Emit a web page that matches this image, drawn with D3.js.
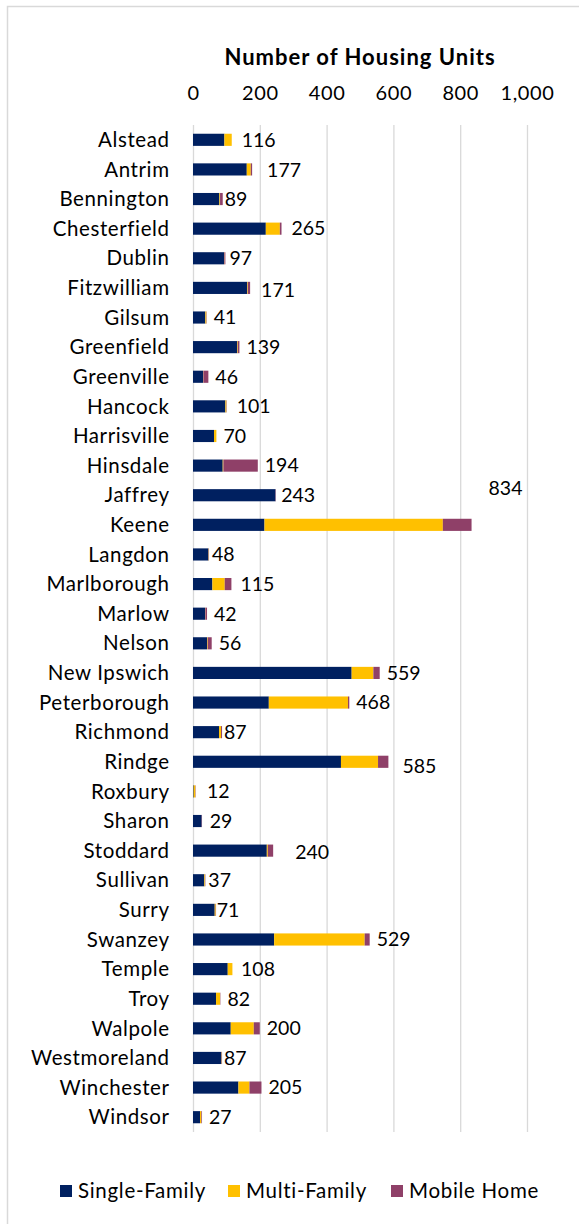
<!DOCTYPE html>
<html>
<head>
<meta charset="utf-8">
<script src="https://cdn.jsdelivr.net/npm/d3@7/dist/d3.min.js"></script>
<style>
  html, body { margin: 0; padding: 0; background: #fff; }
  svg { display: block; }
  text { font-family: Lato, "Open Sans", sans-serif; fill: #000; }
</style>
</head>
<body>
<svg id="chart" width="579" height="1224"></svg>
<script>
// ---------- data ----------
const towns = ["Alstead","Antrim","Bennington","Chesterfield","Dublin","Fitzwilliam","Gilsum",
  "Greenfield","Greenville","Hancock","Harrisville","Hinsdale","Jaffrey","Keene","Langdon",
  "Marlborough","Marlow","Nelson","New Ipswich","Peterborough","Richmond","Rindge","Roxbury",
  "Sharon","Stoddard","Sullivan","Surry","Swanzey","Temple","Troy","Walpole","Westmoreland",
  "Winchester","Windsor"];
const singleFamily = [94,161,79,218,93,162,37,132,30,97,63,89,247,214,46,58,36,42,475,227,78,443,2,26,221,34,65,243,104,69,113,85,136,21];
const multiFamily  = [22,12,2,42,1,2,3,2,1,3,7,2,0,534,1,37,1,2,65,237,6,111,5,0,3,2,3,271,14,12,69,1,33,4];
const mobileHome   = [0,4,8,5,3,7,1,5,15,1,0,103,1,86,1,20,5,12,19,4,3,31,1,1,16,1,1,15,0,1,18,1,36,2];
const totalLabels  = [116,177,89,265,97,171,41,139,46,101,70,194,243,834,48,115,42,56,559,468,87,585,12,29,240,37,71,529,108,82,200,87,205,27];
const seriesNames  = ["Single-Family","Multi-Family","Mobile Home"];
const xTicks       = [0,200,400,600,800,1000];
const titleText    = "Number of Housing Units";

// ---------- layout / style ----------
const colors = ["#002060","#FFC000","#8F4068"];
const labelGap = 7;
const labelNudge = {
  "Alstead":{dx:3}, "Antrim":{dx:8,dy:1}, "Bennington":{dx:-5}, "Chesterfield":{dx:3},
  "Dublin":{dx:-3}, "Fitzwilliam":{dx:4,dy:2}, "Hancock":{dx:3}, "Langdon":{dx:-4},
  "Richmond":{dx:-5}, "Rindge":{dx:7,dy:4}, "Roxbury":{dx:3}, "Stoddard":{dx:15,dy:2},
  "Sullivan":{dx:-4}, "Surry":{dx:-7}, "Temple":{dx:5}, "Westmoreland":{dx:-5},
  "Marlborough":{dx:2}, "Keene":{dx:10,dy:-36.5}
};

const svg = d3.select("#chart");

// border (chart area frame)
svg.append("rect").attr("x",7.5).attr("y",6.5).attr("width",620).attr("height",1260)
  .attr("fill","none").attr("stroke","#d9d9d9").attr("stroke-width",1.5);

const x = d3.scaleLinear().domain([0,1000]).range([193,527]);
const y = d3.scaleBand().domain(towns).range([125,1132]).paddingInner(0.59).paddingOuter(0.295);

// gridlines
const grid = svg.append("g").attr("transform","translate(0,125)")
  .call(d3.axisTop(x).tickValues(xTicks).tickSize(-(1132-125)).tickFormat(""));
grid.select(".domain").remove();
grid.selectAll(".tick line").attr("stroke","#d9d9d9").attr("stroke-width",1.3);

// tick labels
const axis = svg.append("g").attr("transform","translate(0,100)")
  .call(d3.axisTop(x).tickValues(xTicks).tickSize(0).tickPadding(0).tickFormat(d3.format(",")));
axis.select(".domain").remove();
axis.selectAll("text").style("font-family","Lato, sans-serif").attr("font-size","20px")
  .attr("letter-spacing","0.6px").attr("fill","#000");

// title
svg.append("text").attr("x",(x(0)+x(1000))/2).attr("y",57).attr("dy","0.35em")
  .attr("text-anchor","middle").attr("font-weight","bold").attr("font-size","22px")
  .attr("letter-spacing","1px").text(titleText);

// category labels
svg.append("g").selectAll("text").data(towns).join("text")
  .attr("x",169.6).attr("y",d=>y(d)+y.bandwidth()/2).attr("dy","0.35em")
  .attr("text-anchor","end").attr("font-size","20.5px").attr("letter-spacing","0.6px").text(d=>d);

// stacked bars
const rows = towns.map((t,i)=>({town:t,"Single-Family":singleFamily[i],"Multi-Family":multiFamily[i],"Mobile Home":mobileHome[i]}));
const stack = d3.stack().keys(seriesNames)(rows);
svg.append("g").selectAll("g").data(stack).join("g")
  .attr("fill",(d,i)=>colors[i])
  .selectAll("rect").data(d=>d).join("rect")
  .attr("x",d=>x(d[0])).attr("y",d=>y(d.data.town))
  .attr("width",d=>Math.max(0,x(d[1])-x(d[0]))).attr("height",y.bandwidth());

// total labels
svg.append("g").selectAll("text").data(towns).join("text")
  .attr("x",(d,i)=>x(totalLabels[i])+labelGap+((labelNudge[d]||{}).dx||0))
  .attr("y",(d,i)=>y(d)+y.bandwidth()/2+((labelNudge[d]||{}).dy||0))
  .attr("dy","0.35em").attr("font-size","19.5px")
  .text((d,i)=>totalLabels[i]);

// legend
const legendX = [60,228,391];
const lg = svg.append("g");
seriesNames.forEach((s,i)=>{
  lg.append("rect").attr("x",legendX[i]).attr("y",1185).attr("width",12).attr("height",12).attr("fill",colors[i]);
  lg.append("text").attr("x",legendX[i]+18).attr("y",1191).attr("dy","0.35em")
    .attr("font-size","20.5px").attr("letter-spacing","0.7px").text(s);
});
</script>
</body>
</html>
